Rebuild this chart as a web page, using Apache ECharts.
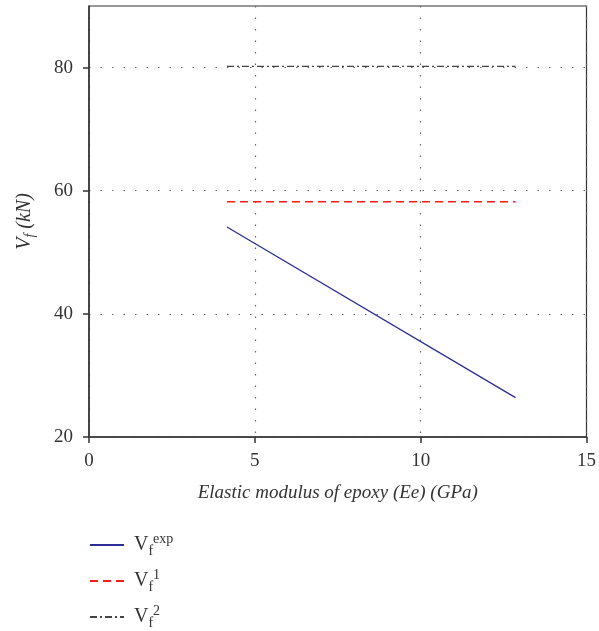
<!DOCTYPE html>
<html>
<head>
<meta charset="utf-8">
<script src="https://cdn.jsdelivr.net/npm/echarts@6/dist/echarts.min.js"></script>
<style>
  html, body { margin: 0; padding: 0; background: #fff; }
  #main { width: 599px; height: 631px; }
</style>
</head>
<body>
<div id="main"></div>
<script>
// elastic modulus of epoxy (GPa), start and end of each line
var eeValues = [4.16, 12.86];
var vfExp = [54.1, 26.4];
var vf1 = [58.2, 58.2];
var vf2 = [80.2, 80.2];
var yTicks = [20, 40, 60, 80];
var xTicks = [0, 5, 10, 15];

var serif = "'Liberation Serif', 'DejaVu Serif', serif";
var ink = '#333';

function pairs(xs, ys) {
    return xs.map(function (x, i) { return [x, ys[i]]; });
}

var legendRich = {
    v: { fontFamily: serif, fontSize: 20, color: ink, lineHeight: 26, verticalAlign: 'middle', padding: [0, 0, 0, 5] },
    sub: { fontFamily: serif, fontSize: 14, color: ink, lineHeight: 26, verticalAlign: 'bottom' },
    sup: { fontFamily: serif, fontSize: 14, color: ink, lineHeight: 26, verticalAlign: 'top' }
};
var legendLabels = {
    exp: '{v|V}{sub|f}{sup|exp}',
    one: '{v|V}{sub|f}{sup|1}',
    two: '{v|V}{sub|f}{sup|2}'
};

var chart = echarts.init(document.getElementById('main'));
chart.setOption({
    animation: false,
    grid: {
        left: 89, right: 10, top: 6, bottom: 194,
        show: true, borderColor: ink, borderWidth: 1.2, backgroundColor: 'transparent'
    },
    legend: {
        orient: 'vertical',
        left: 89,
        top: 532,
        padding: 0,
        itemWidth: 34,
        itemHeight: 14,
        itemGap: 10,
        data: ['exp', 'one', 'two'],
        itemStyle: { opacity: 0 },
        formatter: function (name) { return legendLabels[name]; },
        textStyle: { rich: legendRich }
    },
    xAxis: {
        type: 'value',
        min: 0, max: 15, interval: 5,
        name: 'Elastic modulus of epoxy (Ee) (GPa)',
        nameLocation: 'middle',
        nameGap: 46,
        nameTextStyle: { fontFamily: serif, fontStyle: 'italic', fontSize: 19, color: ink },
        axisLine: { lineStyle: { color: ink, width: 1.5 } },
        axisTick: { inside: false, length: 6, lineStyle: { color: ink, width: 1.5 }, customValues: xTicks },
        axisLabel: { fontFamily: serif, fontSize: 19, color: ink, margin: 15, customValues: xTicks },
        splitLine: { show: true, lineStyle: { color: '#666', type: [1.5, 10], width: 1.2 } }
    },
    yAxis: {
        type: 'value',
        min: 20, max: 90, interval: 20,
        name: '{i|V}{s|f}{i| (kN)}',
        nameLocation: 'middle',
        nameRotate: 90,
        nameGap: 52,
        nameTextStyle: {
            rich: {
                i: { fontFamily: serif, fontStyle: 'italic', fontSize: 20, color: ink, lineHeight: 24, verticalAlign: 'middle' },
                s: { fontFamily: serif, fontStyle: 'italic', fontSize: 14, color: ink, lineHeight: 24, verticalAlign: 'bottom' }
            }
        },
        axisLine: { show: true, lineStyle: { color: ink, width: 1.5 } },
        axisTick: { show: true, inside: false, length: 6, lineStyle: { color: ink, width: 1.5 }, customValues: yTicks },
        axisLabel: { fontFamily: serif, fontSize: 19, color: ink, margin: 16, customValues: yTicks },
        splitLine: { show: true, lineStyle: { color: '#666', type: [1.5, 10], width: 1.2 } }
    },
    series: [
        {
            name: 'exp', type: 'line', symbol: 'none',
            data: pairs(eeValues, vfExp),
            lineStyle: { color: '#2d2d96', width: 1.3 },
            itemStyle: { color: '#2d2d96' }
        },
        {
            name: 'one', type: 'line', symbol: 'none',
            data: pairs(eeValues, vf1),
            lineStyle: { color: '#ff1a1a', width: 1.5, type: [8, 5] },
            itemStyle: { color: '#ff1a1a' }
        },
        {
            name: 'two', type: 'line', symbol: 'none',
            data: pairs(eeValues, vf2),
            lineStyle: { color: '#444', width: 1.3, type: [7, 3, 2, 3] },
            itemStyle: { color: '#444' }
        }
    ]
});
</script>
</body>
</html>
